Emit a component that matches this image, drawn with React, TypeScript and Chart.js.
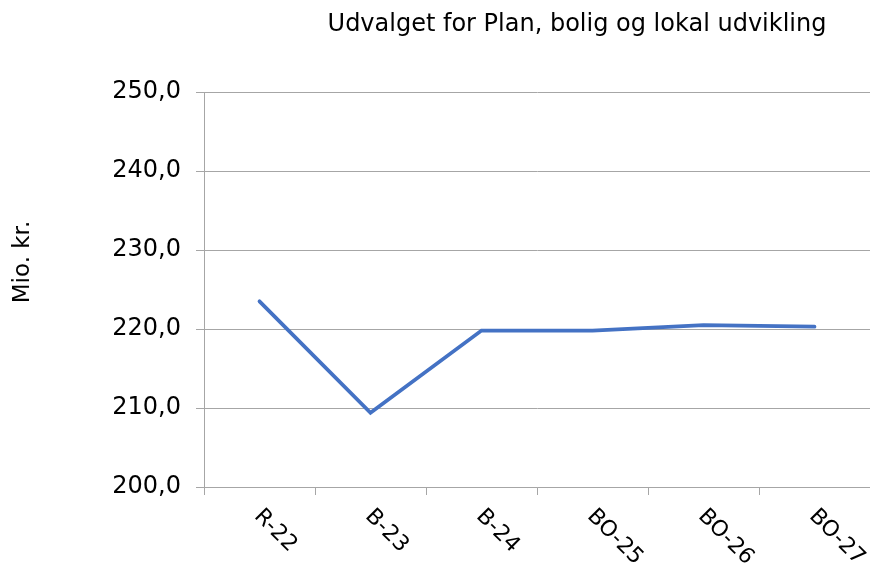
import React, { useEffect, useRef } from "react";
import { Chart, registerables } from "chart.js";

Chart.register(...registerables);

const categories = ["R-22", "B-23", "B-24", "BO-25", "BO-26", "BO-27"];
const values = [223.5, 209.4, 219.8, 219.8, 220.5, 220.3];
const yMin = 200;
const yMax = 250;
const yStep = 10;
const chartTitle = "Udvalget for Plan, bolig og lokal udvikling";
const yAxisTitle = "Mio. kr.";

const FONT = "'DejaVu Sans', Verdana, sans-serif";
const GRID = "#a6a6a6";

const textPlugin = {
  id: "customText",
  afterDraw(chart: any) {
    const ctx = chart.ctx;
    const xs = chart.scales.x;
    const area = chart.chartArea;
    ctx.save();
    ctx.fillStyle = "#000000";
    // title
    ctx.font = `24px ${FONT}`;
    ctx.textAlign = "center";
    ctx.textBaseline = "alphabetic";
    ctx.fillText(chartTitle, 577, 31);
    // y axis title
    ctx.save();
    ctx.translate(29, 262);
    ctx.rotate(-Math.PI / 2);
    ctx.font = `23px ${FONT}`;
    ctx.textAlign = "center";
    ctx.textBaseline = "alphabetic";
    ctx.fillText(yAxisTitle, 0, 0);
    ctx.restore();
    // x labels rotated clockwise
    ctx.font = `22px ${FONT}`;
    ctx.textAlign = "left";
    ctx.textBaseline = "alphabetic";
    categories.forEach((c, i) => {
      const x = xs.getPixelForValue(i);
      ctx.save();
      ctx.translate(x - 6, area.bottom + 30);
      ctx.rotate(Math.PI / 4);
      ctx.fillText(c, 0, 0);
      ctx.restore();
    });
    ctx.restore();
  },
};

export default function App() {
  const ref = useRef<HTMLCanvasElement>(null);
  useEffect(() => {
    document.body.style.margin = "0";
    const chart = new Chart(ref.current!, {
      type: "line",
      data: {
        labels: categories,
        datasets: [
          {
            data: values,
            borderColor: "#4472C4",
            backgroundColor: "#4472C4",
            borderWidth: 3.75,
            pointRadius: 0,
            tension: 0,
            borderCapStyle: "round",
          },
        ],
      },
      options: {
        responsive: false,
        animation: false,
        layout: { padding: { top: 92, right: 0, bottom: 0, left: 0 } },
        plugins: {
          legend: { display: false },
          tooltip: { enabled: false },
          title: { display: false },
        },
        scales: {
          x: {
            offset: true,
            grid: {
              offset: true,
              drawOnChartArea: false,
              drawTicks: true,
              tickLength: 8,
              color: GRID,
            },
            border: { display: true, color: GRID, width: 1 },
            ticks: { display: false },
            afterFit: (s: any) => {
              s.height = 77;
            },
          },
          y: {
            min: yMin,
            max: yMax,
            grid: { color: GRID, tickLength: 8, lineWidth: 1 },
            border: { display: true, color: GRID, width: 1 },
            ticks: {
              stepSize: yStep,
              padding: 15,
              color: "#000000",
              font: { family: FONT, size: 24 },
              callback: (v: any) => Number(v).toFixed(1).replace(".", ","),
            },
            afterFit: (s: any) => {
              s.width = 204;
            },
          },
        },
      },
      plugins: [textPlugin],
    });
    return () => chart.destroy();
  }, []);
  return (
    <div style={{ position: "absolute", left: 0, top: 0, width: 870, height: 564 }}>
      <canvas ref={ref} width={870} height={564} />
    </div>
  );
}
